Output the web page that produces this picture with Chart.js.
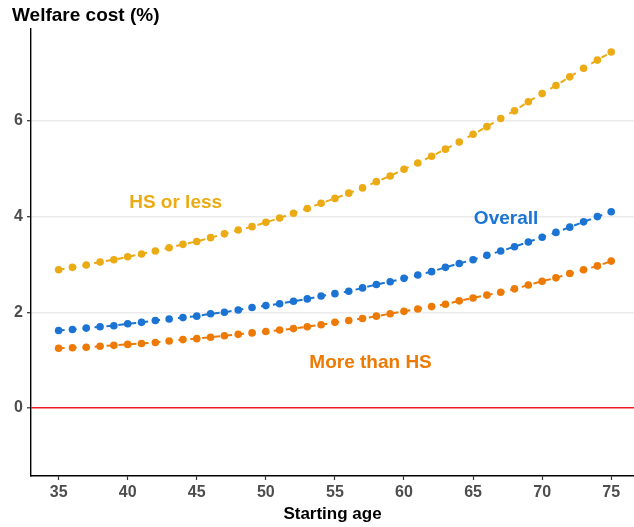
<!DOCTYPE html>
<html>
<head>
<meta charset="utf-8">
<script src="https://cdn.jsdelivr.net/npm/chart.js@4/dist/chart.umd.min.js"></script>
<style>
    html, body { margin: 0; padding: 0; background: #ffffff; }
    canvas { display: block; }
</style>
</head>
<body>
<canvas id="welfare-chart" width="634" height="527"></canvas>
<script>
// Data
const ages = [35, 36, 37, 38, 39, 40, 41, 42, 43, 44, 45, 46, 47, 48, 49, 50, 51, 52, 53, 54,
    55, 56, 57, 58, 59, 60, 61, 62, 63, 64, 65, 66, 67, 68, 69, 70, 71, 72, 73, 74, 75];

const hsOrLess = [2.89, 2.94, 2.99, 3.05, 3.10, 3.16, 3.22, 3.28, 3.35, 3.42, 3.48, 3.56, 3.64, 3.72,
    3.79, 3.88, 3.97, 4.07, 4.17, 4.28, 4.38, 4.49, 4.60, 4.73, 4.85, 4.99, 5.12, 5.26, 5.41, 5.56,
    5.72, 5.88, 6.05, 6.21, 6.40, 6.57, 6.74, 6.92, 7.10, 7.27, 7.44];

const overall = [1.62, 1.64, 1.67, 1.70, 1.72, 1.76, 1.79, 1.83, 1.86, 1.89, 1.92, 1.97, 2.00, 2.05,
    2.10, 2.14, 2.18, 2.23, 2.28, 2.34, 2.39, 2.44, 2.51, 2.58, 2.64, 2.71, 2.78, 2.85, 2.94, 3.02,
    3.10, 3.19, 3.28, 3.37, 3.47, 3.57, 3.67, 3.78, 3.89, 4.00, 4.10];

const moreThanHs = [1.25, 1.26, 1.27, 1.29, 1.31, 1.33, 1.35, 1.37, 1.40, 1.43, 1.45, 1.48, 1.51, 1.54,
    1.57, 1.60, 1.63, 1.66, 1.70, 1.74, 1.79, 1.83, 1.87, 1.92, 1.97, 2.02, 2.07, 2.12, 2.17, 2.24,
    2.30, 2.36, 2.42, 2.49, 2.57, 2.65, 2.72, 2.81, 2.89, 2.97, 3.07];

const xTicks = [35, 40, 45, 50, 55, 60, 65, 70, 75];
const yTicks = [0, 2, 4, 6];

// Colours
const colors = {
    hs: '#EBAB15',
    overall: '#1B74D3',
    more: '#EE7A06',
    zero: '#EE1C25',
    grid: '#EBEBEB',
    tickText: '#4D4D4D',
};

// In-plot labels, placed in data coordinates (age, welfare cost)
const seriesLabels = [
    { text: 'HS or less', x: 43.47, y: 4.17, color: colors.hs },
    { text: 'Overall', x: 67.39, y: 3.855, color: colors.overall },
    { text: 'More than HS', x: 57.58, y: 0.845, color: colors.more },
];

const FONT = "'Liberation Sans', Arial, sans-serif";

const toPoints = (values) => ages.map((a, i) => ({ x: a, y: values[i] }));

const makeSeries = (label, values, color) => ({
    label,
    data: toPoints(values),
    borderColor: color,
    backgroundColor: color,
    borderWidth: 2,
    borderDash: [6, 6],
    pointRadius: 3.8,
    pointBorderWidth: 0,
    pointBackgroundColor: color,
    tension: 0,
});

const labelPlugin = {
    id: 'seriesLabels',
    afterDatasetsDraw(chart) {
        const { ctx, scales } = chart;
        ctx.save();
        ctx.font = `bold 19px ${FONT}`;
        ctx.textAlign = 'center';
        ctx.textBaseline = 'alphabetic';
        seriesLabels.forEach((l) => {
            ctx.fillStyle = l.color;
            ctx.fillText(l.text, scales.x.getPixelForValue(l.x), scales.y.getPixelForValue(l.y));
        });
        // y axis title, top-left like the original
        ctx.fillStyle = '#000000';
        ctx.textAlign = 'left';
        ctx.fillText('Welfare cost (%)', 12, 21);
        ctx.restore();
    },
};

const canvas = document.getElementById('welfare-chart');

new Chart(canvas, {
    type: 'line',
    data: {
        datasets: [
            makeSeries('HS or less', hsOrLess, colors.hs),
            makeSeries('Overall', overall, colors.overall),
            makeSeries('More than HS', moreThanHs, colors.more),
        ],
    },
    options: {
        responsive: false,
        animation: false,
        layout: {
            autoPadding: false,
            padding: { top: 29, right: 0, left: 0, bottom: 0 },
        },
        plugins: {
            legend: { display: false },
            tooltip: { enabled: false },
        },
        scales: {
            x: {
                type: 'linear',
                min: 33,
                max: 76.65,
                afterBuildTicks(scale) {
                    scale.ticks = xTicks.map((v) => ({ value: v }));
                },
                afterFit(scale) {
                    scale.height = 51;
                    scale.paddingLeft = 0;
                    scale.paddingRight = 0;
                },
                grid: {
                    drawOnChartArea: false,
                    tickLength: 4,
                    tickColor: '#333333',
                    tickWidth: 1.2,
                },
                border: { color: '#000000', width: 1.4 },
                ticks: {
                    padding: 3,
                    color: colors.tickText,
                    font: { family: FONT, size: 16, weight: 'bold' },
                    maxRotation: 0,
                },
                title: {
                    display: true,
                    text: 'Starting age',
                    color: '#000000',
                    font: { family: FONT, size: 17, weight: 'bold' },
                    padding: { top: 0, bottom: 2 },
                },
            },
            y: {
                type: 'linear',
                min: -1.42,
                max: 7.92,
                afterBuildTicks(scale) {
                    scale.ticks = yTicks.map((v) => ({ value: v }));
                },
                afterFit(scale) {
                    scale.width = 31;
                    scale.paddingTop = 0;
                    scale.paddingBottom = 0;
                },
                grid: {
                    color: (ctx) => (ctx.tick && ctx.tick.value === 0 ? colors.zero : colors.grid),
                    lineWidth: (ctx) => (ctx.tick && ctx.tick.value === 0 ? 1.6 : 1.4),
                    tickLength: 4,
                    tickColor: '#333333',
                    tickWidth: 1.2,
                },
                border: { color: '#000000', width: 1.4 },
                ticks: {
                    padding: 4,
                    color: colors.tickText,
                    font: { family: FONT, size: 16, weight: 'bold' },
                },
            },
        },
    },
    plugins: [labelPlugin],
});
</script>
</body>
</html>
